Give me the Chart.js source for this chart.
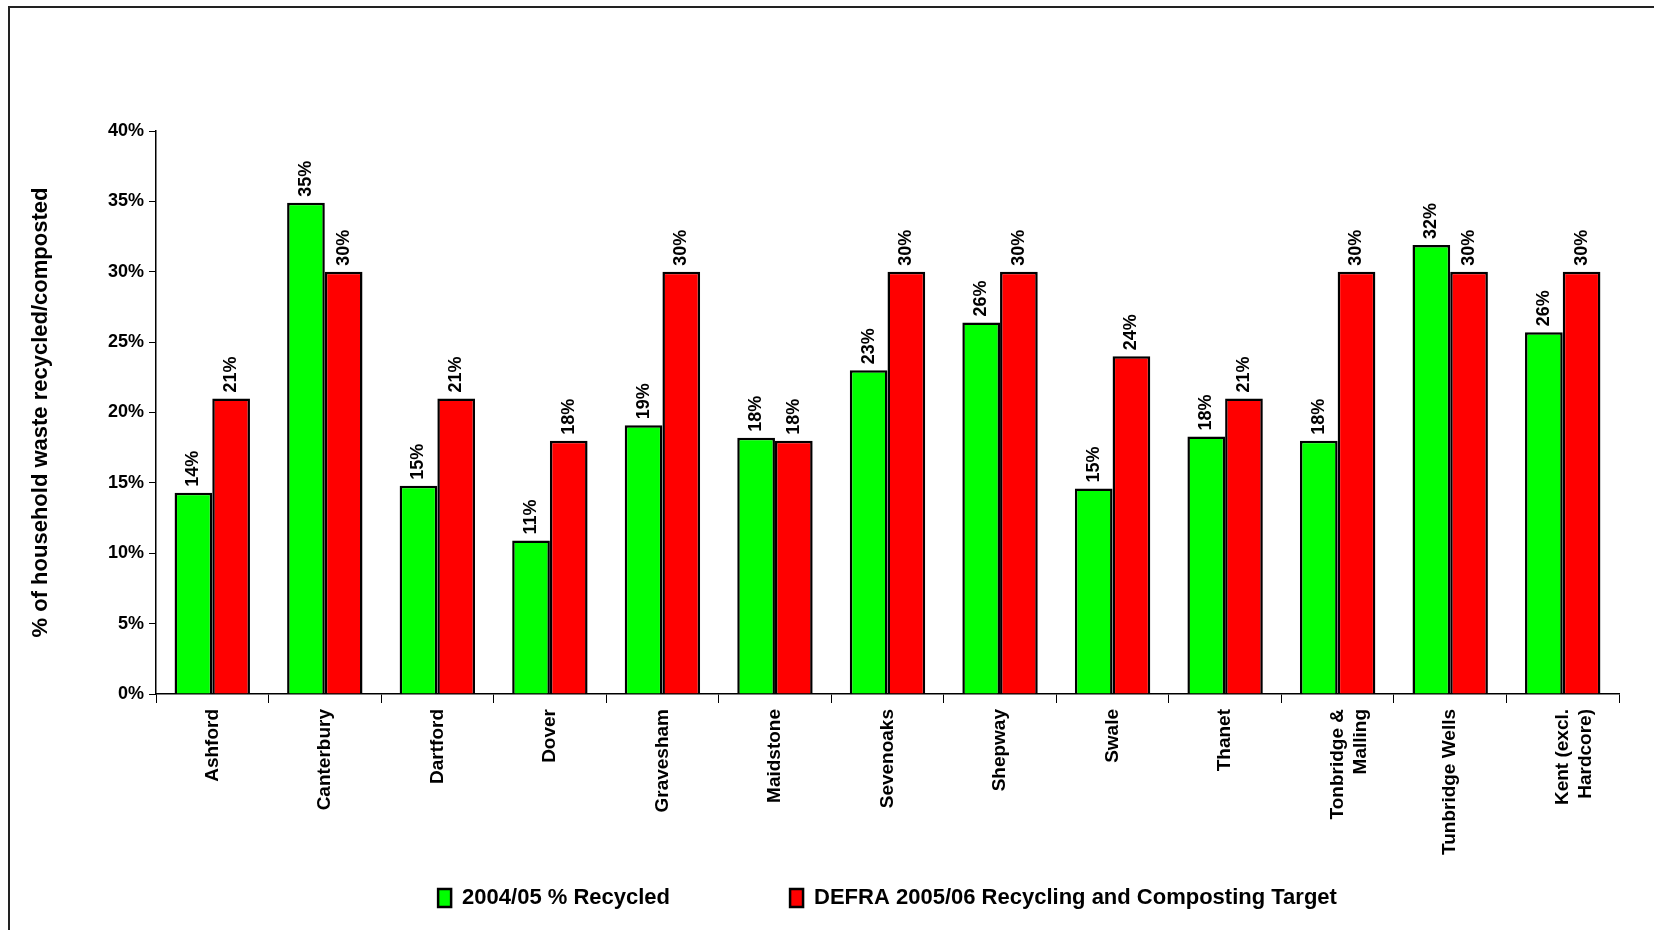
<!DOCTYPE html>
<html>
<head>
<meta charset="utf-8">
<script src="https://cdn.jsdelivr.net/npm/chart.js@4/dist/chart.umd.min.js"></script>
<style>
  html, body { margin: 0; padding: 0; background: #fff; }
  #wrap { position: relative; width: 1654px; height: 930px; }
</style>
</head>
<body>
<div id="wrap"><canvas id="myChart" width="1654" height="930"></canvas></div>
<script>
//Data------------------------------------------------------
const districts = ['Ashford', 'Canterbury', 'Dartford', 'Dover', 'Gravesham', 'Maidstone', 'Sevenoaks',
    'Shepway', 'Swale', 'Thanet', ['Tonbridge &', 'Malling'], 'Tunbridge Wells', ['Kent (excl.', 'Hardcore)']];
const recycled = [14.3, 34.9, 14.8, 10.9, 19.1, 18.2, 23.0, 26.4, 14.6, 18.3, 18.0, 31.9, 25.7];
const target = [21, 30, 21, 18, 30, 18, 30, 30, 24, 21, 30, 30, 30];
const yTicks = [0, 5, 10, 15, 20, 25, 30, 35, 40];

const font = '"Liberation Sans", Arial, sans-serif';
Chart.defaults.font.family = font;
Chart.defaults.color = '#000';

// value labels above each bar, turned on their side
const barLabels = {
    id: 'barLabels',
    afterDatasetsDraw(chart) {
        const ctx = chart.ctx;
        chart.data.datasets.forEach((ds, i) => {
            chart.getDatasetMeta(i).data.forEach((bar, j) => {
                ctx.save();
                ctx.translate(bar.x, bar.y - 6);
                ctx.rotate(-Math.PI / 2);
                ctx.font = 'bold 18px ' + font;
                ctx.fillStyle = '#000';
                ctx.textAlign = 'left';
                ctx.textBaseline = 'middle';
                ctx.fillText(Math.round(ds.data[j]) + '%', 0, 0);
                ctx.restore();
            });
        });
    }
};

// the frame round the whole picture
const frame = {
    id: 'frame',
    beforeDraw(chart) {
        const ctx = chart.ctx;
        ctx.save();
        ctx.strokeStyle = '#222';
        ctx.lineWidth = 2;
        ctx.beginPath();
        ctx.moveTo(9, 940);
        ctx.lineTo(9, 7);
        ctx.lineTo(1660, 7);
        ctx.stroke();
        ctx.restore();
    }
};

const data = {
    labels: districts,
    datasets: [{
        label: '2004/05 % Recycled',
        data: recycled,
        backgroundColor: '#00ff00',
        borderColor: '#000',
        borderWidth: 2.5,
        categoryPercentage: 0.67,
        barPercentage: 1
    }, {
        label: 'DEFRA 2005/06 Recycling and Composting Target',
        data: target,
        backgroundColor: '#ff0000',
        borderColor: '#000',
        borderWidth: 2.5,
        categoryPercentage: 0.67,
        barPercentage: 1
    }]
};

const options = {
    responsive: false,
    animation: false,
    layout: {
        padding: { top: 131, left: 0, right: 35, bottom: 11 }
    },
    plugins: {
        tooltip: { enabled: false },
        legend: {
            position: 'bottom',
            fullSize: false,
            labels: {
                boxWidth: 13,
                boxHeight: 18,
                padding: 10,
                font: { size: 22, weight: 'bold' },
                generateLabels(chart) {
                    const items = Chart.defaults.plugins.legend.labels.generateLabels(chart);
                    items[0].text += '\u00a0'.repeat(18);
                    return items;
                }
            }
        }
    },
    scales: {
        x: {
            grid: { display: true, offset: true, drawOnChartArea: false, tickLength: 9, color: '#000', lineWidth: 1 },
            border: { display: true, color: '#000', width: 1.5 },
            ticks: {
                autoSkip: false,
                maxRotation: 90,
                minRotation: 90,
                padding: 6,
                font: { size: 19, weight: 'bold' }
            },
            afterFit(scale) { scale.height = 183; }
        },
        y: {
            min: 0,
            max: 40,
            afterBuildTicks(scale) { scale.ticks = yTicks.map(v => ({ value: v })); },
            grid: { display: true, drawOnChartArea: false, tickLength: 7, color: '#000', lineWidth: 1 },
            border: { display: true, color: '#000', width: 1.5 },
            ticks: {
                padding: 5,
                font: { size: 18, weight: 'bold' },
                callback: v => v + '%'
            },
            title: {
                display: true,
                text: '% of household waste recycled/composted',
                font: { size: 22, weight: 'bold' },
                padding: { top: 28, bottom: 0 }
            },
            afterFit(scale) { scale.width = 156; }
        }
    }
};

const config = {
    type: 'bar',
    data,
    options,
    plugins: [barLabels, frame]
};

const myChart = new Chart(document.getElementById('myChart'), config);
</script>
</body>
</html>
